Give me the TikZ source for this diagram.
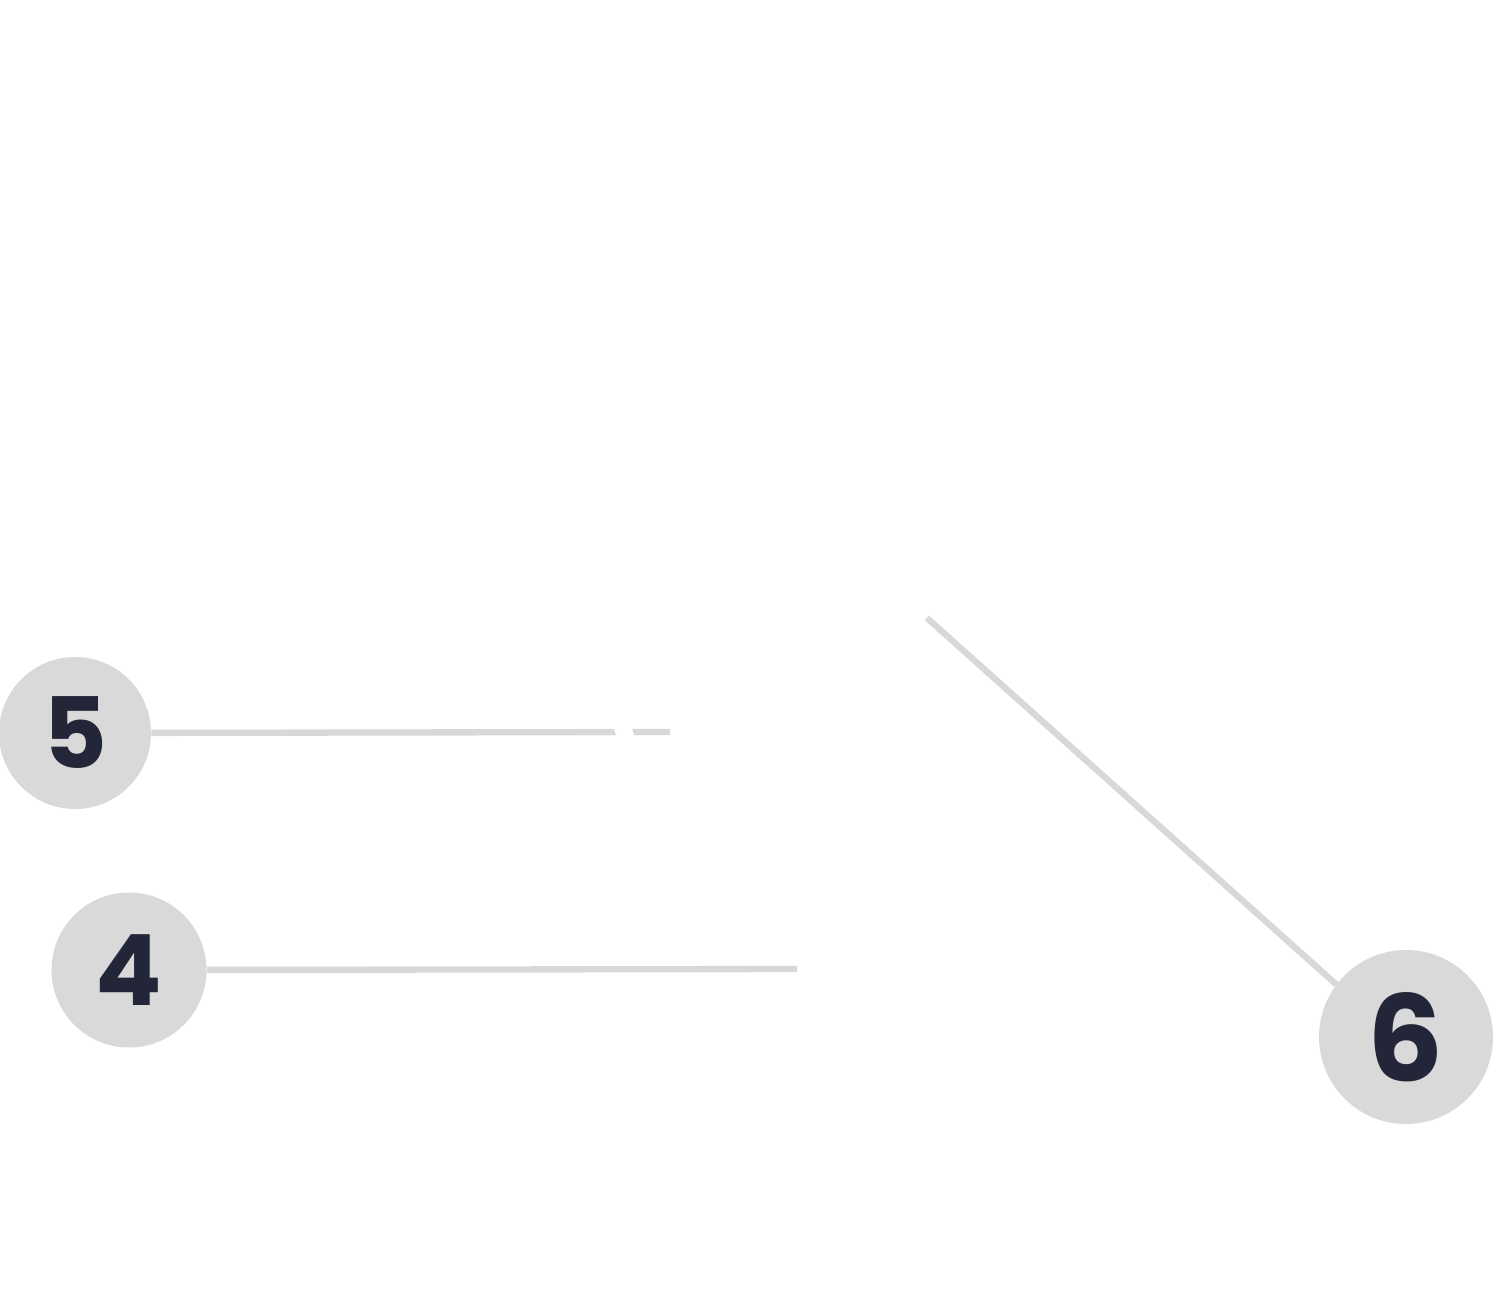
\documentclass[tikz,border=0pt]{standalone}
\usepackage{fontspec}
\setmainfont{Poppins}
\usepackage{tikz}
\usetikzlibrary{positioning}
\definecolor{badgegray}{RGB}{217,217,217}
\definecolor{leadgray}{RGB}{216,216,216}
\definecolor{digitnavy}{RGB}{35,37,56}
\tikzset{
  badge/.style ={circle, fill=badgegray, inner sep=0pt, text=digitnavy,
                font=\fontsize{56}{60}\selectfont\bfseries},
  leader/.style ={draw=leadgray, line width=3.6pt},
}
\begin{document}
\begin{tikzpicture}[x=0.02cm, y=-0.02cm]
\useasboundingbox (0,0) rectangle (1494,1292);
\node[badge, minimum size=152*0.02cm] (five) at (75,733) {5};
\node[badge, minimum size=155*0.02cm] (four) at (129,970) {4};
\node[badge, minimum size=174*0.02cm, font=\fontsize{68}{72}\selectfont\bfseries] (six) at (1406,1037) {6};
\coordinate (fiveend) at (670,732);
\coordinate (fourend) at (797,969);
\coordinate (sixend) at (927,618);
\draw[leader] (five) -- (fiveend);
\draw[leader] (four) -- (fourend);
\draw[leader] (sixend) -- (six.143);
% gap in the top leader
\fill[white] (613,726) -- (631,726) -- (635,738) -- (617,738) -- cycle;
\end{tikzpicture}
\end{document}
